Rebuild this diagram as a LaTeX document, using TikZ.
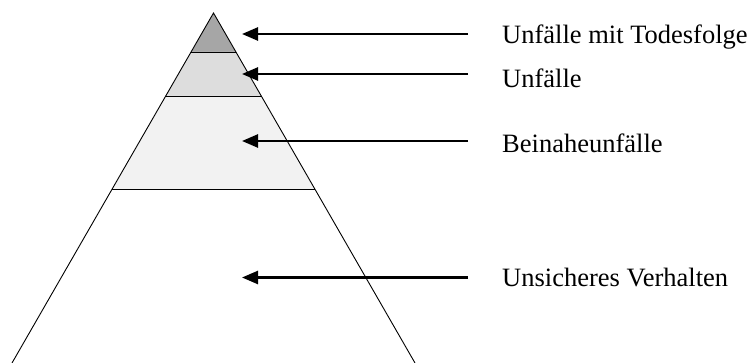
\documentclass[tikz,border=0pt]{standalone}
\usepackage{fontspec}
\setmainfont{Liberation Serif}
\usetikzlibrary{arrows.meta}
\begin{document}
\begin{tikzpicture}[x=1pt,y=-1pt,
  side/.style={line width=0.9pt,black},
  band/.style={line width=0.9pt,black},
  pointer/.style={line width=2.5pt,-{Triangle[length=16pt,width=13pt]}},
  lbl/.style={anchor=base west,inner sep=0pt,font=\fontsize{26.5}{30}\selectfont}]
\useasboundingbox (0,0) rectangle (752,363);
% apex and corners
\coordinate (A) at (213.5,13);
\coordinate (L1) at (191.05,52);  \coordinate (R1) at (235.95,52);
\coordinate (L2) at (165.7,96);   \coordinate (R2) at (261.3,96);
\coordinate (L3) at (112.2,189);  \coordinate (R3) at (314.8,189);
\coordinate (L4) at (12,363);     \coordinate (R4) at (415,363);
% fills
\fill[fill={rgb,255:red,166;green,166;blue,166}] (A) -- (R1) -- (L1) -- cycle;
\fill[fill={rgb,255:red,221;green,221;blue,221}] (L1) -- (R1) -- (R2) -- (L2) -- cycle;
\fill[fill={rgb,255:red,242;green,242;blue,242}] (L2) -- (R2) -- (R3) -- (L3) -- cycle;
% outline
\draw[side] (L4) -- (A) -- (R4);
\draw[band] (L1) -- (R1);
\draw[band] (L2) -- (R2);
\draw[band] (L3) -- (R3);
% labels
\node[lbl] (t1) at (502,44) {Unfälle mit Todesfolge};
\node[lbl] (t2) at (502,87.5) {Unfälle};
\node[lbl] (t3) at (502,152.5) {Beinaheunfälle};
\node[lbl] (t4) at (502,286.5) {Unsicheres Verhalten};
% arrows
\coordinate (s1) at (468,34);  \coordinate (e1) at (242,34);
\coordinate (s2) at (468,74);  \coordinate (e2) at (242,74);
\coordinate (s3) at (468,141); \coordinate (e3) at (242,141);
\coordinate (s4) at (468,277.5); \coordinate (e4) at (242,277.5);
\draw[pointer] (s1) -- (e1);
\draw[pointer] (s2) -- (e2);
\draw[pointer] (s3) -- (e3);
\draw[pointer] (s4) -- (e4);
\end{tikzpicture}
\end{document}
